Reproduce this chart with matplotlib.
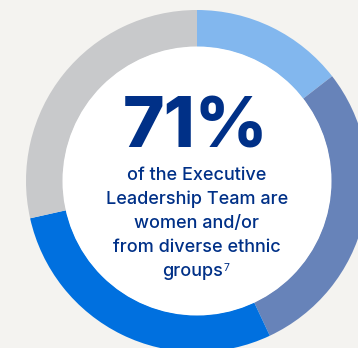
import matplotlib.pyplot as plt
from matplotlib.patches import Circle

# share of the ring, clockwise from 12 o'clock
segments = ["light blue", "slate", "bright blue", "grey"]
shares = [14.5, 28.5, 28.5, 28.5]
colors = ["#82b7ee", "#6783b9", "#0070df", "#c8c9cb"]

headline = "71%"
body_lines = ["of the Executive", "Leadership Team are", "women and/or",
              "from diverse ethnic"]
last_line = "groups"
footnote = "7"

W, H = 358, 348
fig = plt.figure(figsize=(W / 100, H / 100), dpi=100)
fig.patch.set_facecolor("#f4f3f0")
ax = fig.add_axes([0, 0, 1, 1])

cx, cy = 197, H - 181
R, r = 171, 134
ax.pie(shares, colors=colors, startangle=90, counterclock=False,
       center=(cx, cy), radius=R,
       wedgeprops=dict(width=R - r, linewidth=0))
ax.add_patch(Circle((cx, cy), r + 0.5, facecolor="white", edgecolor="none"))

ax.set_xlim(0, W)
ax.set_ylim(0, H)
ax.set_aspect("equal")
ax.axis("off")

navy = "#003087"
ax.text(cx - 1, H - 148, headline, ha="center", va="baseline", color=navy,
        fontsize=51, fontweight="heavy", family="Inter")

for i, line in enumerate(body_lines):
    ax.text(cx, H - (175 + 24 * i), line, ha="center", va="center",
            color=navy, fontsize=13, fontweight="medium", family="Inter")
g = ax.text(cx - 4, H - 271, last_line, ha="center", va="center",
            color=navy, fontsize=13, fontweight="medium", family="Inter")
ax.annotate(footnote, xy=(1, 0.95), xycoords=g, ha="left", va="top",
            color=navy, fontsize=7.5, family="Inter")

fig.savefig("out.png", dpi=100, facecolor=fig.get_facecolor())
